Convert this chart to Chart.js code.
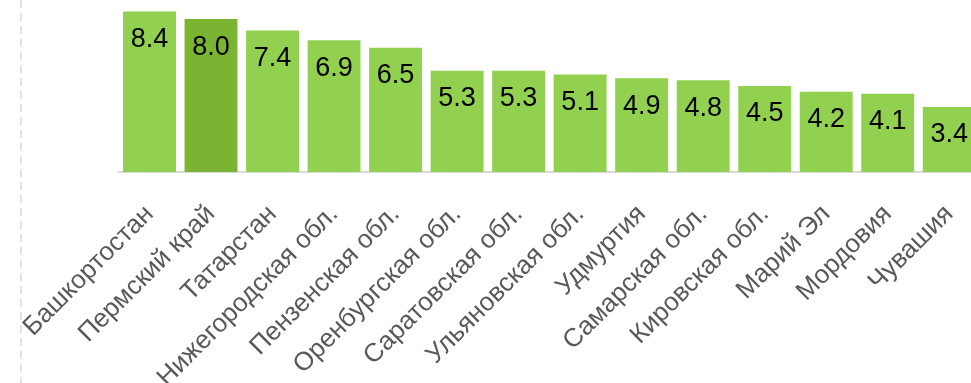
<!DOCTYPE html>
<html>
<head>
<meta charset="utf-8">
<script src="https://cdn.jsdelivr.net/npm/chart.js@4/dist/chart.umd.min.js"></script>
<style>
  html, body { margin: 0; padding: 0; background: #fff; overflow: hidden; }
  #wrap { position: relative; width: 980px; height: 383px; }
</style>
</head>
<body>
<div id="wrap"><canvas id="c"></canvas></div>
<script>
// Regions and their values
const regions = ['Башкортостан', 'Пермский край', 'Татарстан', 'Нижегородская обл.', 'Пензенская обл.',
  'Оренбургская обл.', 'Саратовская обл.', 'Ульяновская обл.', 'Удмуртия', 'Самарская обл.',
  'Кировская обл.', 'Марий Эл', 'Мордовия', 'Чувашия'];
const values = [8.4, 8.0, 7.4, 6.9, 6.5, 5.3, 5.3, 5.1, 4.9, 4.8, 4.5, 4.2, 4.1, 3.4];
const highlighted = ['Пермский край'];

const barColors = regions.map(r => highlighted.includes(r) ? '#79b532' : '#92d050');

// Value printed inside the top of every bar
const valueLabels = {
  id: 'valueLabels',
  afterDatasetsDraw(chart) {
    const ctx = chart.ctx;
    const meta = chart.getDatasetMeta(0);
    ctx.save();
    ctx.font = '27px "Liberation Sans", Arial, sans-serif';
    ctx.fillStyle = '#000';
    ctx.textAlign = 'center';
    ctx.textBaseline = 'middle';
    meta.data.forEach((bar, i) => {
      ctx.fillText(values[i].toFixed(1), bar.x, bar.y + 28);
    });
    ctx.restore();
  }
};

// Light dashed divider on the left side
const divider = {
  id: 'divider',
  beforeDraw(chart) {
    const ctx = chart.ctx;
    ctx.save();
    ctx.strokeStyle = '#d9d9d9';
    ctx.lineWidth = 1.5;
    ctx.setLineDash([8, 5]);
    ctx.beginPath();
    ctx.moveTo(21, 0);
    ctx.lineTo(21, chart.height);
    ctx.stroke();
    ctx.restore();
  }
};

new Chart(document.getElementById('c'), {
  type: 'bar',
  data: {
    labels: regions,
    datasets: [{
      data: values,
      backgroundColor: barColors,
      borderWidth: 0,
      barPercentage: 0.86,
      categoryPercentage: 1.0
    }]
  },
  options: {
    responsive: true,
    maintainAspectRatio: false,
    animation: false,
    layout: { padding: { left: 118.75, right: 0, top: 0, bottom: 0 } },
    plugins: { legend: { display: false }, tooltip: { enabled: false } },
    scales: {
      x: {
        grid: { display: false, drawTicks: false },
        border: { display: true, color: '#d9d9d9', width: 2 },
        ticks: {
          color: '#595959',
          font: { family: '"Liberation Sans", Arial, sans-serif', size: 26 },
          minRotation: 45,
          maxRotation: 45,
          autoSkip: false,
          padding: 27
        },
        afterFit(scale) {
          scale.height = 211;
          scale.paddingLeft = 0;
          scale.paddingRight = 0;
        }
      },
      y: {
        display: false,
        min: 0,
        max: 9
      }
    }
  },
  plugins: [valueLabels, divider]
});
</script>
</body>
</html>
